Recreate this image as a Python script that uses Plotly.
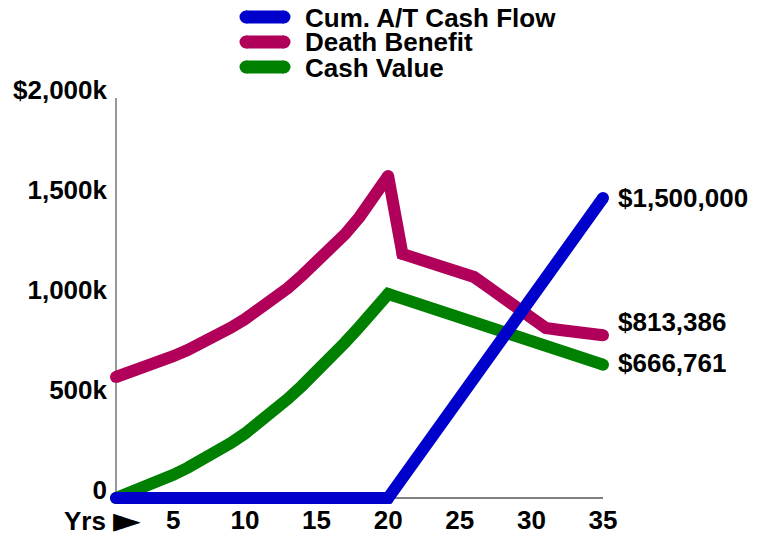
import plotly.graph_objects as go

years = list(range(1, 36))

cum_cash_flow = [0] * 20 + [100000, 200000, 300000, 400000, 500000, 600000, 700000, 800000,
                            900000, 1000000, 1100000, 1200000, 1300000, 1400000, 1500000]

death_benefit = [605000, 628000, 653000, 680000, 709000, 740000, 774000, 811000, 851000, 894000,
                 941000, 992000, 1050000, 1113000, 1177000, 1245000, 1320000, 1405000, 1500000, 1610000,
                 1220000, 1198000, 1176000, 1152000, 1130000, 1105000, 1054000, 1003000, 952000, 901000,
                 850000, 840000, 830000, 822000, 813386]

cash_value = [0, 26000, 54000, 84000, 116000, 151000, 189000, 230000, 274000, 322000,
              375000, 433000, 496000, 562000, 630000, 702000, 778000, 856000, 937000, 1020000,
              997000, 973000, 950000, 925000, 902000, 878000, 855000, 830000, 806000, 775000,
              750000, 728000, 707000, 687000, 666761]

series_names = ["Cum. A/T Cash Flow", "Death Benefit", "Cash Value"]
series_colors = ["#0000CC", "#B0005A", "#008000"]
series_values = [cum_cash_flow, death_benefit, cash_value]

end_labels = ["$1,500,000", "$813,386", "$666,761"]
end_label_yshift = [0, 13, 2]

y_tickvals = [0, 500000, 1000000, 1500000, 2000000]
y_ticktext = ["0", "500k", "1,000k", "1,500k", "$2,000k"]
x_tickvals = [5, 10, 15, 20, 25, 30, 35]

FONT = "Liberation Sans"
FS = 26
LW = 12

W, H = 768, 539
# axis extents in pixels (year 1 .. 35, value 0 .. 2,000k)
AX_L, AX_R, AX_T, AX_B = 116, 603, 98, 498
PAD = 8  # room so thick lines are not clipped at the axes
L = AX_L - PAD
T = AX_T - PAD
PW = (AX_R - AX_L) + 2 * PAD
PH = (AX_B - AX_T) + 2 * PAD
R = W - L - PW
B = H - T - PH

x_lo, x_hi = years[0], years[-1]
y_lo, y_hi = 0, 2000000
dx = PAD * (x_hi - x_lo) / (AX_R - AX_L)
dy = PAD * (y_hi - y_lo) / (AX_B - AX_T)


def px(xp):
    return (xp - L) / PW


def py(yp):
    return (T + PH - yp) / PH


fig = go.Figure()
corner_years = {0: [1, 20, 35], 1: [1, 20, 21, 35], 2: [1, 20, 35]}
for idx in [1, 2, 0]:
    sizes = [LW if yr in corner_years[idx] else 0 for yr in years]
    fig.add_trace(go.Scatter(
        x=years, y=series_values[idx], name=series_names[idx],
        mode="lines+markers",
        line=dict(color=series_colors[idx], width=LW),
        marker=dict(color=series_colors[idx], size=sizes, line=dict(width=0), opacity=1),
        cliponaxis=False, showlegend=False, hoverinfo="skip",
    ))

annotations = []
for name, vals, lab, ys in zip(series_names, series_values, end_labels, end_label_yshift):
    annotations.append(dict(
        x=years[-1], y=vals[-1], xref="x", yref="y", text="<b>%s</b>" % lab,
        showarrow=False, xanchor="left", yanchor="middle", xshift=13, yshift=ys,
        font=dict(family=FONT, size=FS, color="black"),
    ))

# "Yrs ►" label at the start of the x axis
annotations.append(dict(
    x=px(108), y=py(521), xref="paper", yref="paper", text="<b>Yrs</b>",
    showarrow=False, xanchor="right", yanchor="middle",
    font=dict(family=FONT, size=FS, color="black"),
))
annotations.append(dict(
    x=px(111), y=py(519), xref="paper", yref="paper", text="►",
    showarrow=False, xanchor="left", yanchor="middle",
    font=dict(family="DejaVu Sans", size=36, color="black"),
))

# axis lines (years 1..35 and 0..2,000k)
shapes = [
    dict(type="line", xref="x", yref="y", x0=x_lo, x1=x_hi, y0=y_lo, y1=y_lo,
         line=dict(color="black", width=1), layer="below"),
    dict(type="line", xref="x", yref="y", x0=x_lo, x1=x_lo, y0=y_lo, y1=y_hi,
         line=dict(color="#333333", width=1), layer="below"),
]

# custom legend
leg_rows_px = [17, 42, 67]
for name, col, ypx in zip(series_names, series_colors, leg_rows_px):
    yp = py(ypx)
    shapes.append(dict(type="line", xref="paper", yref="paper", xsizemode="pixel", xanchor=px(246),
                       x0=0, x1=38, y0=yp, y1=yp, line=dict(color=col, width=LW + 1)))
    for cx in (0, 38):
        shapes.append(dict(type="circle", xref="paper", yref="paper", xsizemode="pixel",
                           ysizemode="pixel", xanchor=px(246), yanchor=yp,
                           x0=cx - 6.5, x1=cx + 6.5, y0=-6.5, y1=6.5,
                           line=dict(width=0), fillcolor=col))
    annotations.append(dict(
        x=px(303), y=yp, xref="paper", yref="paper", text="<b>%s</b>" % name,
        showarrow=False, xanchor="left", yanchor="middle", height=25,
        font=dict(family=FONT, size=FS, color="black"),
    ))

fig.update_layout(
    width=W, height=H, autosize=False,
    margin=dict(l=L, r=R, t=T, b=B, pad=0, autoexpand=False),
    paper_bgcolor="white", plot_bgcolor="white",
    showlegend=False, hovermode=False,
    annotations=annotations, shapes=shapes,
    xaxis=dict(range=[x_lo - dx, x_hi + dx], tickvals=x_tickvals,
               ticktext=["<b>%s</b>" % v for v in x_tickvals],
               anchor="free", position=PAD / PH,
               showgrid=False, zeroline=False, showline=False,
               ticks="", ticklabelstandoff=4, automargin=False,
               tickfont=dict(family=FONT, size=FS, color="black")),
    yaxis=dict(range=[y_lo - dy, y_hi + dy], tickvals=y_tickvals,
               ticktext=["<b>%s</b>" % t for t in y_ticktext],
               anchor="free", position=PAD / PW,
               showgrid=False, zeroline=False, showline=False,
               ticks="", ticklabelstandoff=9, ticklabelshift=-8, automargin=False,
               tickfont=dict(family=FONT, size=FS, color="black")),
)

fig.write_html("out.html", config={"displayModeBar": False, "staticPlot": True},
               post_script="document.body.style.margin='0';")
